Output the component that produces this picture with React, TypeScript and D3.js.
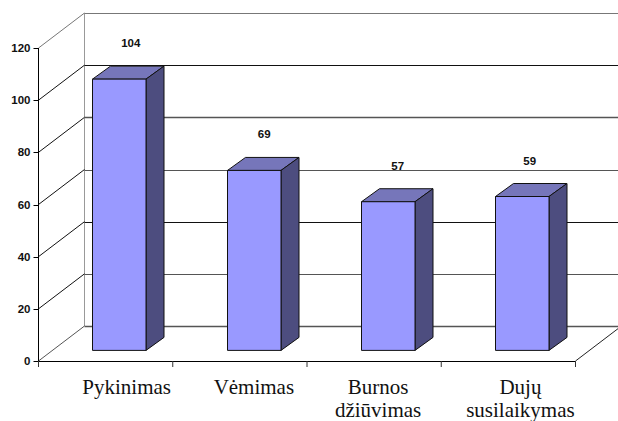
import React from "react";
import * as d3 from "d3";

const categories = ["Pykinimas", "Vėmimas", "Burnos", "Dujų"];
const categoryLines = [["Pykinimas"], ["Vėmimas"], ["Burnos", "džiūvimas"], ["Dujų", "susilaikymas"]];
const values = [104, 69, 57, 59];
const yTicks = [0, 20, 40, 60, 80, 100, 120];

// Hand-placed nudges for the category and value captions.
const categoryShift = [21, 14, 4, 12];
const valueShift = [11.5, 10, 9.5, 7.5];

const W = 618;
const H = 421;
const x0 = 38.5;
const x1 = 575.5;
const yBase = 361;
const yTop = 48;
const wallDx = 46;
const wallDy = -35;
const barDx = 18;
const barDy = -13;
const barInsetDx = 13.5;
const barInsetDy = -10.6;
const barW = 53.5;

const y = d3.scaleLinear().domain([0, 120]).range([yBase, yTop]);
const band = d3.scaleBand<string>().domain(categories).range([x0, x1]);

export default function App() {
  const sans = "'Liberation Sans', Arial, sans-serif";
  const serif = "'Liberation Serif', 'Times New Roman', serif";
  return (
    <svg width={W} height={H} style={{ position: "absolute", left: 0, top: 0, background: "#fff" }}>
      {/* side and back walls */}
      <line x1={x0} x2={x0 + wallDx} y1={y(120)} y2={y(120) + wallDy} stroke="#777" />
      <line x1={x0 + wallDx} x2={x0 + wallDx} y1={y(120) + wallDy} y2={y(0) + wallDy} stroke="#999" />
      {yTicks.map((t) => {
        const isDark = t === 100 || t === 40;
        return (
          <g key={t}>
            {t > 0 && t < 120 && (
              <line x1={x0} x2={x0 + wallDx} y1={y(t)} y2={y(t) + wallDy} stroke="#111" />
            )}
            {t === 0 && <line x1={x0} x2={x0 + wallDx} y1={y(t)} y2={y(t) + wallDy} stroke="#555" />}
            <line
              x1={x0 + wallDx}
              x2={W}
              y1={Math.round(y(t) + wallDy) + 0.5}
              y2={Math.round(y(t) + wallDy) + 0.5}
              stroke={t === 120 ? "#777" : isDark ? "#111" : "#555"}
              strokeWidth={t === 0 || t === 80 ? 1.4 : 1}
            />
          </g>
        );
      })}
      {/* floor edge on the right */}
      <line x1={x1} x2={x1 + wallDx} y1={y(0)} y2={y(0) + wallDy} stroke="#222" />
      {/* axes */}
      <line x1={x0} x2={x0} y1={y(120)} y2={y(0) + 5} stroke="#000" />
      <line x1={x0} x2={x1} y1={y(0) + 0.5} y2={y(0) + 0.5} stroke="#000" strokeWidth={1.2} />
      {yTicks.map((t) => (
        <g key={t}>
          <line x1={x0 - 5} x2={x0} y1={Math.round(y(t)) + 0.5} y2={Math.round(y(t)) + 0.5} stroke="#000" />
          <text
            x={x0 - 8}
            y={y(t) + 4}
            textAnchor="end"
            fontFamily={sans}
            fontSize={11.5}
            fontWeight={700}
            fill="#111"
          >
            {t}
          </text>
        </g>
      ))}
      {[...categories.map((c) => band(c) as number), x1].map((tx, i) => (
        <line key={i} x1={tx} x2={tx} y1={y(0)} y2={y(0) + 6} stroke="#333" />
      ))}
      {/* bars: top, side, front */}
      {values.map((v, i) => {
        const raw = (band(categories[i]) as number) + (band.bandwidth() - barW) / 2 + barInsetDx;
        const left = Math.round(raw) + 0.5;
        const right = left + barW;
        const bottom = y(0) + barInsetDy;
        const top = y(v) + barInsetDy;
        return (
          <g key={i} stroke="#111" strokeWidth={1} strokeLinejoin="round">
            <path
              d={`M${left},${top}L${left + barDx},${top + barDy}L${right + barDx},${top + barDy}L${right},${top}Z`}
              fill="#7676ba"
            />
            <path
              d={`M${right},${top}L${right + barDx},${top + barDy}L${right + barDx},${bottom + barDy}L${right},${bottom}Z`}
              fill="#4d4d7f"
            />
            <rect x={left} y={top} width={barW} height={bottom - top} fill="#9999ff" />
            <text
              x={left + barW / 2 + valueShift[i]}
              y={top - 32}
              textAnchor="middle"
              fontFamily={sans}
              fontSize={11.5}
              fontWeight={700}
              fill="#111"
              stroke="none"
            >
              {v}
            </text>
          </g>
        );
      })}
      {/* category labels */}
      {categoryLines.map((lines, i) =>
        lines.map((line, j) => (
          <text
            key={line}
            x={(band(categories[i]) as number) + band.bandwidth() / 2 + categoryShift[i]}
            y={394 + j * 23}
            textAnchor="middle"
            fontFamily={serif}
            fontSize={21}
            fill="#111"
          >
            {line}
          </text>
        ))
      )}
    </svg>
  );
}
